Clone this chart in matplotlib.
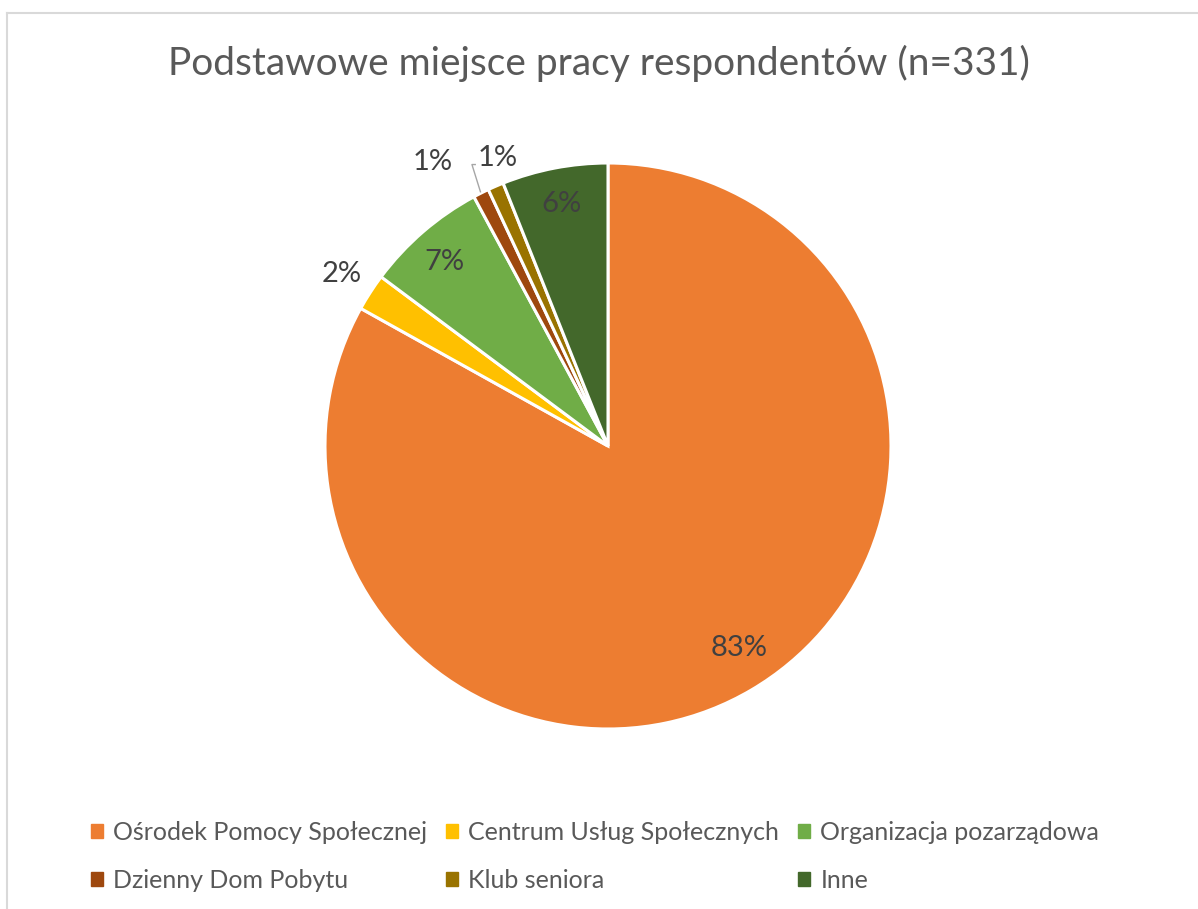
import numpy as np
import matplotlib.pyplot as plt
from matplotlib.lines import Line2D

plt.rcParams['font.family'] = ['Lato', 'DejaVu Sans']

categories = ['Ośrodek Pomocy Społecznej', 'Centrum Usług Społecznych', 'Organizacja pozarządowa',
              'Dzienny Dom Pobytu', 'Klub seniora', 'Inne']
counts = [275, 7, 23, 3, 3, 20]
colors = ['#ED7D31', '#FFC000', '#70AD47', '#9E480E', '#997300', '#43682B']
# label radius (fraction of pie radius) and angle nudge (deg) per slice
label_r = [0.85, 1.12, 0.87, 1.18, 1.09, 0.87]
label_da = [2.5, 0, 1, 5, -2.5, 0]

W, H = 1198, 909
fig = plt.figure(figsize=(W / 100, H / 100), dpi=100)
cx, cy, R = 608, 446, 283
ax = fig.add_axes([(cx - R) / W, 1 - (cy + R) / H, 2 * R / W, 2 * R / H])

wedges, _ = ax.pie(counts, colors=colors, startangle=90, counterclock=False, radius=1,
                   wedgeprops=dict(edgecolor='white', linewidth=2.2))
ax.set_xlim(-1, 1)
ax.set_ylim(-1, 1)
ax.set_aspect('equal')
ax.axis('off')

total = sum(counts)
for i, w in enumerate(wedges):
    mid = np.deg2rad((w.theta1 + w.theta2) / 2 + label_da[i])
    r = label_r[i]
    pct = f'{round(counts[i] / total * 100)}%'
    ax.text(r * np.cos(mid), r * np.sin(mid), pct, ha='center', va='center',
            fontsize=21, color='#404040', clip_on=False)
    if i == 3:
        # leader line for the small slice
        emid = np.deg2rad((w.theta1 + w.theta2) / 2)
        x0, y0 = 1.005 * np.cos(emid), 1.005 * np.sin(emid)
        lx, ly = r * np.cos(mid), r * np.sin(mid)
        ax.plot([x0, x0 - 0.03, lx + 0.15], [y0, ly - 0.01, ly - 0.01],
                color='#A6A6A6', lw=1, clip_on=False)

fig.text(0.5, 1 - 63 / H, 'Podstawowe miejsce pracy respondentów (n=331)',
         ha='center', va='center', fontsize=28, color='#595959')

order = [0, 3, 1, 4, 2, 5]
handles = [plt.Rectangle((0, 0), 1, 1, color=colors[i]) for i in order]
labels = [categories[i] for i in order]
fig.legend(handles, labels, ncol=3, loc='center left', bbox_to_anchor=(68 / W, 1 - 856 / H),
           frameon=False, fontsize=18, labelcolor='#595959', handlelength=0.5, handleheight=0.5,
           handletextpad=0.4, columnspacing=0.75, labelspacing=1.0)

fig.add_artist(Line2D([7 / W, 7 / W], [0, 1 - 13 / H], color='#D9D9D9', lw=1.5))
fig.add_artist(Line2D([7 / W, 1], [1 - 13 / H, 1 - 13 / H], color='#D9D9D9', lw=1.5))

fig.savefig('out.png', dpi=100)
